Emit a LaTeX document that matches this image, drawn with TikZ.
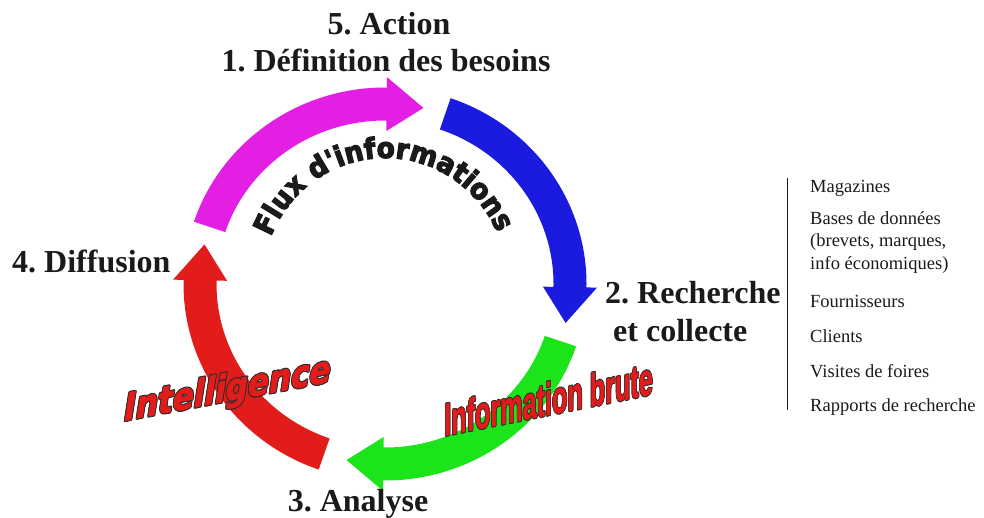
\documentclass[tikz,border=0pt]{standalone}
\usepackage{fontspec}
\setmainfont{Liberation Serif}
\newfontfamily\fluxfont[BoldFeatures={FakeBold=4,FakeStretch=0.93}]{DejaVu Sans}
\newfontfamily\intfont[BoldItalicFeatures={FakeBold=2.5}]{DejaVu Sans}
\newfontfamily\infofont[BoldFeatures={FakeBold=1.5}]{Liberation Sans}
\usetikzlibrary{decorations.text,calc}
\definecolor{cmag}{RGB}{226,31,226}
\definecolor{cblue}{RGB}{27,27,224}
\definecolor{cgreen}{RGB}{27,228,27}
\definecolor{cred}{RGB}{226,27,27}
\definecolor{txtc}{RGB}{26,26,26}
\definecolor{outl}{RGB}{45,45,45}
\newcommand\ringarrow[2]{%
  \fill[#2] ($(c)+({#1+72}:201.5 and 196.5)$)
    arc[start angle={#1+72}, end angle={#1}, x radius=201.5, y radius=196.5]
    -- ($(c)+({#1}:212 and 207)$)
    -- ($(c)+({#1-11.5}:185 and 180)$)
    -- ($(c)+({#1}:158 and 153)$)
    -- ($(c)+({#1}:168.5 and 163.5)$)
    arc[start angle={#1}, end angle={#1+72}, x radius=168.5, y radius=163.5]
    -- cycle;}
\newcommand\outlinedtext[3]{%
  \foreach \a in {0,45,...,315}{
    \node[#2, text=outl, anchor=base, transform shape] (#1-\a) at (\a:0.9) {#3};}
  \node[#2, text=cred, anchor=base, transform shape] (#1) at (0,0) {#3};}
\begin{document}
\frenchspacing
\begin{tikzpicture}[x=1pt,y=1pt,
  lbl/.style={font=\bfseries\fontsize{32}{36}\selectfont, text=txtc, inner sep=0pt},
  item/.style={font=\fontsize{18.5}{22}\selectfont, text=txtc, inner sep=0pt, anchor=base west},
  ibstyle/.style={font=\infofont\bfseries\fontsize{40}{44}\selectfont, inner sep=0pt},
  intstyle/.style={font=\intfont\bfseries\itshape\fontsize{31}{35}\selectfont, inner sep=0pt}]
\useasboundingbox (0,0) rectangle (984,517);
\coordinate (c) at (385,233);
% ring of arrows
\ringarrow{89.5}{cmag}
\ringarrow{-1}{cblue}
\ringarrow{-90.5}{cgreen}
\ringarrow{178.8}{cred}
% curved text
\path[decorate, decoration={text along path, text align=center,
  text color=txtc,
  text={|\fluxfont\bfseries\fontsize{28.5}{32}\selectfont|Flux d'informations}}]
  ($(c)+(158:123 and 126)$) arc[start angle=158, end angle=24, x radius=123, y radius=126];
% step labels
\node[lbl, anchor=base] (action) at (389,482) {5. Action};
\node[lbl, anchor=base] (def) at (386,445) {1. Définition des besoins};
\node[lbl, anchor=base west] (rech) at (605,213) {2. Recherche};
\node[lbl, anchor=base west] (coll) at (613,176) {et collecte};
\node[lbl, anchor=base] (ana) at (358,6) {3. Analyse};
\node[lbl, anchor=base west] (diff) at (12,244) {4. Diffusion};
% sources list
\coordinate (bartop) at (787,339);
\coordinate (barbot) at (787,107);
\draw[txtc, line width=0.9pt] (bartop) -- (barbot);
\node[item] (s1) at (810,324) {Magazines};
\node[item] (s2) at (810,292) {Bases de données};
\node[item] (s3) at (810,270) {(brevets, marques,};
\node[item] (s4) at (810,247) {info économiques)};
\node[item] (s5) at (810,209) {Fournisseurs};
\node[item] (s6) at (810,175) {Clients};
\node[item] (s7) at (810,140) {Visites de foires};
\node[item] (s8) at (810,106) {Rapports de recherche};
% word-art labels
\begin{scope}[shift={(548.5,102)}, yslant=0.2, xscale=0.63, yscale=1.15]
  \outlinedtext{ib}{ibstyle}{Information brute}
\end{scope}
\begin{scope}[shift={(227.5,116)}, yslant=0.19, yscale=1.2]
  \outlinedtext{intel}{intstyle}{Intelligence}
\end{scope}
\end{tikzpicture}
\end{document}
